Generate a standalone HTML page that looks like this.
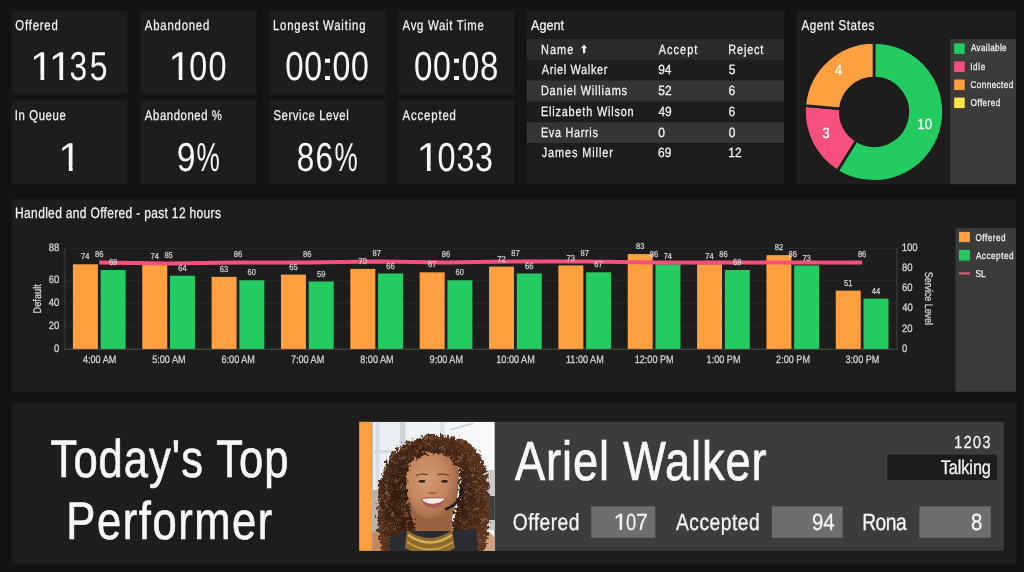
<!DOCTYPE html>
<html><head><meta charset="utf-8"><style>
html,body{margin:0;padding:0;background:#131313;overflow:hidden}
svg{display:block;will-change:transform}
text{font-family:"Liberation Sans",sans-serif;text-rendering:geometricPrecision}
</style></head><body>
<svg width="1024" height="572" viewBox="0 0 1024 572">
<defs><clipPath id="one0" clipPathUnits="userSpaceOnUse"><rect x="-20" y="-80" width="100" height="75.56"/><rect x="10.12" y="-80" width="3.67" height="84"/></clipPath><clipPath id="one1" clipPathUnits="userSpaceOnUse"><rect x="-20" y="-80" width="100" height="75.56"/><rect x="10.12" y="-80" width="3.67" height="84"/></clipPath><clipPath id="one2" clipPathUnits="userSpaceOnUse"><rect x="-20" y="-80" width="100" height="75.56"/><rect x="10.12" y="-80" width="3.67" height="84"/></clipPath><clipPath id="one3" clipPathUnits="userSpaceOnUse"><rect x="-20" y="-80" width="100" height="75.56"/><rect x="10.12" y="-80" width="3.67" height="84"/></clipPath><clipPath id="one4" clipPathUnits="userSpaceOnUse"><rect x="-20" y="-80" width="100" height="75.56"/><rect x="10.12" y="-80" width="3.67" height="84"/></clipPath><clipPath id="one5" clipPathUnits="userSpaceOnUse"><rect x="-20" y="-80" width="100" height="77.25"/><rect x="5.84" y="-80" width="2.17" height="84"/></clipPath></defs>
<rect width="1024" height="572" fill="#131313"/>
<rect x="11.50" y="10.60" width="116.00" height="83.60" fill="#1d1d1d" />
<text transform="translate(15.36 29.77) scale(0.8000 1)" font-size="14.18" fill="#f5f5f5" stroke="#f5f5f5" stroke-width="0.25" letter-spacing="0.99" >Offered</text>
<text transform="translate(30.04 80.20) scale(1.0302 1)" font-size="40.44" fill="#f7f7f7" stroke="#f7f7f7" stroke-width="0.0" clip-path="url(#one0)">1</text>
<text transform="translate(48.83 80.20) scale(1.0454 1)" font-size="40.44" fill="#f7f7f7" stroke="#f7f7f7" stroke-width="0.0" clip-path="url(#one1)">1</text>
<text transform="translate(69.51 80.20) scale(0.7862 1)" font-size="40.44" fill="#f7f7f7" stroke="#f7f7f7" stroke-width="0.0" >3</text>
<text transform="translate(89.82 80.20) scale(0.7914 1)" font-size="40.44" fill="#f7f7f7" stroke="#f7f7f7" stroke-width="0.0" >5</text>
<rect x="140.50" y="10.60" width="116.00" height="83.60" fill="#1d1d1d" />
<text transform="translate(144.87 29.77) scale(0.8000 1)" font-size="14.18" fill="#f5f5f5" stroke="#f5f5f5" stroke-width="0.25" letter-spacing="1.00" >Abandoned</text>
<text transform="translate(168.59 80.20) scale(1.0048 1)" font-size="40.44" fill="#f7f7f7" stroke="#f7f7f7" stroke-width="0.0" clip-path="url(#one2)">1</text>
<text transform="translate(189.31 80.20) scale(0.7976 1)" font-size="40.44" fill="#f7f7f7" stroke="#f7f7f7" stroke-width="0.0" >0</text>
<text transform="translate(208.40 80.20) scale(0.8028 1)" font-size="40.44" fill="#f7f7f7" stroke="#f7f7f7" stroke-width="0.0" >0</text>
<rect x="269.50" y="10.60" width="116.00" height="83.60" fill="#1d1d1d" />
<text transform="translate(272.96 29.77) scale(0.8000 1)" font-size="14.18" fill="#f5f5f5" stroke="#f5f5f5" stroke-width="0.25" letter-spacing="1.04" >Longest Waiting</text>
<text transform="translate(285.18 80.20) scale(0.8183 1)" font-size="40.44" fill="#f7f7f7" stroke="#f7f7f7" stroke-width="0.0" >0</text>
<text transform="translate(304.22 80.20) scale(0.7924 1)" font-size="40.44" fill="#f7f7f7" stroke="#f7f7f7" stroke-width="0.0" >0</text>
<text transform="translate(320.29 80.20) scale(1.2936 1)" font-size="40.44" fill="#f7f7f7" stroke="#f7f7f7" stroke-width="0.0" >:</text>
<text transform="translate(332.52 80.20) scale(0.7924 1)" font-size="40.44" fill="#f7f7f7" stroke="#f7f7f7" stroke-width="0.0" >0</text>
<text transform="translate(351.12 80.20) scale(0.7924 1)" font-size="40.44" fill="#f7f7f7" stroke="#f7f7f7" stroke-width="0.0" >0</text>
<rect x="398.20" y="10.60" width="116.00" height="83.60" fill="#1d1d1d" />
<text transform="translate(402.57 29.77) scale(0.8000 1)" font-size="14.18" fill="#f5f5f5" stroke="#f5f5f5" stroke-width="0.25" letter-spacing="0.92" >Avg Wait Time</text>
<text transform="translate(414.08 80.20) scale(0.8183 1)" font-size="40.44" fill="#f7f7f7" stroke="#f7f7f7" stroke-width="0.0" >0</text>
<text transform="translate(433.12 80.20) scale(0.7924 1)" font-size="40.44" fill="#f7f7f7" stroke="#f7f7f7" stroke-width="0.0" >0</text>
<text transform="translate(449.19 80.20) scale(1.2936 1)" font-size="40.44" fill="#f7f7f7" stroke="#f7f7f7" stroke-width="0.0" >:</text>
<text transform="translate(461.42 80.20) scale(0.7924 1)" font-size="40.44" fill="#f7f7f7" stroke="#f7f7f7" stroke-width="0.0" >0</text>
<text transform="translate(480.10 80.20) scale(0.8156 1)" font-size="40.44" fill="#f7f7f7" stroke="#f7f7f7" stroke-width="0.0" >8</text>
<rect x="11.50" y="100.20" width="116.00" height="84.00" fill="#1d1d1d" />
<text transform="translate(14.85 120.07) scale(0.8000 1)" font-size="14.18" fill="#f5f5f5" stroke="#f5f5f5" stroke-width="0.25" letter-spacing="0.75" >In Queue</text>
<text transform="translate(58.37 170.50) scale(1.0353 1)" font-size="40.44" fill="#f7f7f7" stroke="#f7f7f7" stroke-width="0.0" clip-path="url(#one3)">1</text>
<rect x="140.50" y="100.20" width="116.00" height="84.00" fill="#1d1d1d" />
<text transform="translate(144.87 120.07) scale(0.8000 1)" font-size="14.18" fill="#f5f5f5" stroke="#f5f5f5" stroke-width="0.25" letter-spacing="0.73" >Abandoned %</text>
<text transform="translate(176.80 170.50) scale(0.8341 1)" font-size="40.44" fill="#f7f7f7" stroke="#f7f7f7" stroke-width="0.0" >9</text>
<text transform="translate(196.48 170.50) scale(0.6484 1)" font-size="40.44" fill="#f7f7f7" stroke="#f7f7f7" stroke-width="0.0" >%</text>
<rect x="269.50" y="100.20" width="116.00" height="84.00" fill="#1d1d1d" />
<text transform="translate(273.39 120.07) scale(0.8000 1)" font-size="14.18" fill="#f5f5f5" stroke="#f5f5f5" stroke-width="0.25" letter-spacing="0.75" >Service Level</text>
<text transform="translate(296.76 170.50) scale(0.7787 1)" font-size="40.44" fill="#f7f7f7" stroke="#f7f7f7" stroke-width="0.0" >8</text>
<text transform="translate(315.52 170.50) scale(0.7807 1)" font-size="40.44" fill="#f7f7f7" stroke="#f7f7f7" stroke-width="0.0" >6</text>
<text transform="translate(334.59 170.50) scale(0.6454 1)" font-size="40.44" fill="#f7f7f7" stroke="#f7f7f7" stroke-width="0.0" >%</text>
<rect x="398.20" y="100.20" width="116.00" height="84.00" fill="#1d1d1d" />
<text transform="translate(402.57 120.07) scale(0.8000 1)" font-size="14.18" fill="#f5f5f5" stroke="#f5f5f5" stroke-width="0.25" letter-spacing="1.08" >Accepted</text>
<text transform="translate(416.79 170.50) scale(1.0048 1)" font-size="40.44" fill="#f7f7f7" stroke="#f7f7f7" stroke-width="0.0" clip-path="url(#one4)">1</text>
<text transform="translate(437.50 170.50) scale(0.8028 1)" font-size="40.44" fill="#f7f7f7" stroke="#f7f7f7" stroke-width="0.0" >0</text>
<text transform="translate(456.59 170.50) scale(0.7966 1)" font-size="40.44" fill="#f7f7f7" stroke="#f7f7f7" stroke-width="0.0" >3</text>
<text transform="translate(475.09 170.50) scale(0.7966 1)" font-size="40.44" fill="#f7f7f7" stroke="#f7f7f7" stroke-width="0.0" >3</text>
<rect x="526.70" y="10.60" width="257.80" height="173.60" fill="#1d1d1d" />
<text transform="translate(531.08 30.07) scale(0.8900 1)" font-size="14.18" fill="#f5f5f5" stroke="#f5f5f5" stroke-width="0.25" >Agent</text>
<rect x="526.70" y="39.00" width="257.30" height="20.60" fill="#2b2b2b" />
<rect x="526.70" y="80.40" width="257.30" height="21.10" fill="#353535" />
<rect x="526.70" y="122.30" width="257.30" height="20.70" fill="#353535" />
<text transform="translate(540.90 54.17) scale(0.8200 1)" font-size="13.31" fill="#f5f5f5" stroke="#f5f5f5" stroke-width="0.25" letter-spacing="1.36" >Name</text>
<path d="M584.1 44.6 L587.3 48.3 L585.25 48.3 L585.25 53.3 L582.95 53.3 L582.95 48.3 L580.9 48.3 Z" fill="#f0f0f0"/>
<text transform="translate(658.68 54.17) scale(0.8200 1)" font-size="13.31" fill="#f5f5f5" stroke="#f5f5f5" stroke-width="0.25" letter-spacing="1.30" >Accept</text>
<text transform="translate(728.30 54.17) scale(0.8200 1)" font-size="13.31" fill="#f5f5f5" stroke="#f5f5f5" stroke-width="0.25" letter-spacing="1.01" >Reject</text>
<text transform="translate(541.78 74.47) scale(0.8200 1)" font-size="13.31" fill="#f5f5f5" stroke="#f5f5f5" stroke-width="0.25" letter-spacing="0.80" >Ariel Walker</text>
<text transform="translate(658.14 74.47) scale(0.9000 1)" font-size="13.31" fill="#f5f5f5" stroke="#f5f5f5" stroke-width="0.25" >94</text>
<text transform="translate(728.73 74.47) scale(0.9000 1)" font-size="13.31" fill="#f5f5f5" stroke="#f5f5f5" stroke-width="0.25" >5</text>
<text transform="translate(540.90 95.22) scale(0.8200 1)" font-size="13.31" fill="#f5f5f5" stroke="#f5f5f5" stroke-width="0.25" letter-spacing="1.01" >Daniel Williams</text>
<text transform="translate(658.23 95.22) scale(0.9000 1)" font-size="13.31" fill="#f5f5f5" stroke="#f5f5f5" stroke-width="0.25" >52</text>
<text transform="translate(728.61 95.22) scale(0.9000 1)" font-size="13.31" fill="#f5f5f5" stroke="#f5f5f5" stroke-width="0.25" >6</text>
<text transform="translate(540.90 115.97) scale(0.8200 1)" font-size="13.31" fill="#f5f5f5" stroke="#f5f5f5" stroke-width="0.25" letter-spacing="0.99" >Elizabeth Wilson</text>
<text transform="translate(658.44 115.97) scale(0.9000 1)" font-size="13.31" fill="#f5f5f5" stroke="#f5f5f5" stroke-width="0.25" >49</text>
<text transform="translate(728.61 115.97) scale(0.9000 1)" font-size="13.31" fill="#f5f5f5" stroke="#f5f5f5" stroke-width="0.25" >6</text>
<text transform="translate(540.90 136.72) scale(0.8200 1)" font-size="13.31" fill="#f5f5f5" stroke="#f5f5f5" stroke-width="0.25" letter-spacing="0.82" >Eva Harris</text>
<text transform="translate(658.23 136.72) scale(0.9000 1)" font-size="13.31" fill="#f5f5f5" stroke="#f5f5f5" stroke-width="0.25" >0</text>
<text transform="translate(728.73 136.72) scale(0.9000 1)" font-size="13.31" fill="#f5f5f5" stroke="#f5f5f5" stroke-width="0.25" >0</text>
<text transform="translate(541.64 157.47) scale(0.8200 1)" font-size="13.31" fill="#f5f5f5" stroke="#f5f5f5" stroke-width="0.25" letter-spacing="1.11" >James Miller</text>
<text transform="translate(658.11 157.47) scale(0.9000 1)" font-size="13.31" fill="#f5f5f5" stroke="#f5f5f5" stroke-width="0.25" >69</text>
<text transform="translate(728.31 157.47) scale(0.9000 1)" font-size="13.31" fill="#f5f5f5" stroke="#f5f5f5" stroke-width="0.25" >12</text>
<rect x="797.00" y="10.60" width="219.00" height="173.60" fill="#1d1d1d" />
<text transform="translate(801.47 29.88) scale(0.8200 1)" font-size="14.18" fill="#f5f5f5" stroke="#f5f5f5" stroke-width="0.25" letter-spacing="0.69" >Agent States</text>
<path d="M874.00 42.40 A69.5 69.5 0 1 1 837.41 170.99 L856.21 140.64 A33.8 33.8 0 1 0 874.00 78.10 Z" fill="#23cb61" stroke="#1d1d1d" stroke-width="2.6" stroke-linejoin="miter"/>
<path d="M837.41 170.99 A69.5 69.5 0 0 1 804.80 105.49 L840.34 108.78 A33.8 33.8 0 0 0 856.21 140.64 Z" fill="#f8507c" stroke="#1d1d1d" stroke-width="2.6" stroke-linejoin="miter"/>
<path d="M804.80 105.49 A69.5 69.5 0 0 1 874.00 42.40 L874.00 78.10 A33.8 33.8 0 0 0 840.34 108.78 Z" fill="#ffa040" stroke="#1d1d1d" stroke-width="2.6" stroke-linejoin="miter"/>
<text transform="translate(917.28 128.68) scale(0.9000 1)" font-size="14.76" fill="#ffffff" stroke="#ffffff" stroke-width="0.25" >10</text>
<text transform="translate(822.25 137.78) scale(0.9000 1)" font-size="14.76" fill="#ffffff" stroke="#ffffff" stroke-width="0.25" >3</text>
<text transform="translate(834.65 75.47) scale(0.9000 1)" font-size="14.76" fill="#ffffff" stroke="#ffffff" stroke-width="0.25" >4</text>
<rect x="950.20" y="39.10" width="65.80" height="145.10" fill="#3b3b3b" />
<rect x="954.20" y="43.40" width="10.50" height="10.50" fill="#23cb61" />
<text transform="translate(970.88 51.48) scale(0.8200 1)" font-size="9.96" fill="#f5f5f5" stroke="#f5f5f5" stroke-width="0.25" letter-spacing="0.42" >Available</text>
<rect x="954.20" y="61.47" width="10.50" height="10.50" fill="#f8507c" />
<text transform="translate(970.15 69.58) scale(0.8200 1)" font-size="9.96" fill="#f5f5f5" stroke="#f5f5f5" stroke-width="0.25" letter-spacing="0.79" >Idle</text>
<rect x="954.20" y="79.54" width="10.50" height="10.50" fill="#ffa040" />
<text transform="translate(970.49 87.68) scale(0.8200 1)" font-size="9.96" fill="#f5f5f5" stroke="#f5f5f5" stroke-width="0.25" letter-spacing="0.50" >Connected</text>
<rect x="954.20" y="97.61" width="10.50" height="10.50" fill="#ffe545" />
<text transform="translate(970.51 105.78) scale(0.8200 1)" font-size="9.96" fill="#f5f5f5" stroke="#f5f5f5" stroke-width="0.25" letter-spacing="0.55" >Offered</text>
<rect x="11.70" y="199.10" width="1004.30" height="192.60" fill="#1d1d1d" />
<text transform="translate(15.11 218.47) scale(0.8000 1)" font-size="15.05" fill="#f5f5f5" stroke="#f5f5f5" stroke-width="0.25" letter-spacing="0.39" >Handled and Offered - past 12 hours</text>
<rect x="64.60" y="247.80" width="832.20" height="1.00" fill="#2a2a2a" />
<rect x="64.60" y="279.81" width="832.20" height="1.00" fill="#2a2a2a" />
<rect x="64.60" y="302.67" width="832.20" height="1.00" fill="#2a2a2a" />
<rect x="64.60" y="325.54" width="832.20" height="1.00" fill="#2a2a2a" />
<rect x="63.90" y="247.80" width="1.40" height="101.90" fill="#333333" />
<rect x="896.00" y="247.80" width="1.60" height="101.90" fill="#333333" />
<rect x="63.90" y="348.70" width="833.70" height="1.10" fill="#4a4a4a" />
<text transform="translate(48.81 251.12) scale(0.8800 1)" font-size="10.84" fill="#d8d8d8" stroke="#d8d8d8" stroke-width="0.25" >88</text>
<text transform="translate(48.76 283.13) scale(0.8800 1)" font-size="10.84" fill="#d8d8d8" stroke="#d8d8d8" stroke-width="0.25" >60</text>
<text transform="translate(48.76 306.00) scale(0.8800 1)" font-size="10.84" fill="#d8d8d8" stroke="#d8d8d8" stroke-width="0.25" >40</text>
<text transform="translate(48.76 328.86) scale(0.8800 1)" font-size="10.84" fill="#d8d8d8" stroke="#d8d8d8" stroke-width="0.25" >20</text>
<text transform="translate(54.06 351.72) scale(0.8800 1)" font-size="10.84" fill="#d8d8d8" stroke="#d8d8d8" stroke-width="0.25" >0</text>
<text transform="translate(901.69 251.12) scale(0.8800 1)" font-size="10.84" fill="#d8d8d8" stroke="#d8d8d8" stroke-width="0.25" >100</text>
<text transform="translate(902.00 271.25) scale(0.8800 1)" font-size="10.84" fill="#d8d8d8" stroke="#d8d8d8" stroke-width="0.25" >80</text>
<text transform="translate(901.93 291.36) scale(0.8800 1)" font-size="10.84" fill="#d8d8d8" stroke="#d8d8d8" stroke-width="0.25" >60</text>
<text transform="translate(902.20 311.48) scale(0.8800 1)" font-size="10.84" fill="#d8d8d8" stroke="#d8d8d8" stroke-width="0.25" >40</text>
<text transform="translate(901.93 331.60) scale(0.8800 1)" font-size="10.84" fill="#d8d8d8" stroke="#d8d8d8" stroke-width="0.25" >20</text>
<text transform="translate(902.03 351.72) scale(0.8800 1)" font-size="10.84" fill="#d8d8d8" stroke="#d8d8d8" stroke-width="0.25" >0</text>
<g transform="translate(41.3 298.5) rotate(-90)">
<text transform="translate(-15.00 -0.12) scale(0.8200 1)" font-size="11.13" fill="#d8d8d8" stroke="#d8d8d8" stroke-width="0.25" letter-spacing="0.08" >Default</text>
</g>
<g transform="translate(924.5 298.3) rotate(90)">
<text transform="translate(-26.56 -0.12) scale(0.8200 1)" font-size="11.13" fill="#d8d8d8" stroke="#d8d8d8" stroke-width="0.25" letter-spacing="-0.15" >Service Level</text>
</g>
<rect x="72.92" y="264.30" width="24.97" height="84.60" fill="#ffa040" />
<rect x="100.66" y="270.02" width="24.97" height="78.88" fill="#23cb61" />
<text transform="translate(82.96 362.77) scale(0.8400 1)" font-size="10.84" fill="#d8d8d8" stroke="#d8d8d8" stroke-width="0.25" >4:00 AM</text>
<rect x="142.27" y="264.30" width="24.97" height="84.60" fill="#ffa040" />
<rect x="170.01" y="275.74" width="24.97" height="73.16" fill="#23cb61" />
<text transform="translate(152.23 362.77) scale(0.8400 1)" font-size="10.84" fill="#d8d8d8" stroke="#d8d8d8" stroke-width="0.25" >5:00 AM</text>
<rect x="211.62" y="276.88" width="24.97" height="72.02" fill="#ffa040" />
<rect x="239.36" y="280.31" width="24.97" height="68.59" fill="#23cb61" />
<text transform="translate(221.53 362.77) scale(0.8400 1)" font-size="10.84" fill="#d8d8d8" stroke="#d8d8d8" stroke-width="0.25" >6:00 AM</text>
<rect x="280.97" y="274.59" width="24.97" height="74.31" fill="#ffa040" />
<rect x="308.71" y="281.45" width="24.97" height="67.45" fill="#23cb61" />
<text transform="translate(290.88 362.77) scale(0.8400 1)" font-size="10.84" fill="#d8d8d8" stroke="#d8d8d8" stroke-width="0.25" >7:00 AM</text>
<rect x="350.32" y="268.88" width="24.97" height="80.02" fill="#ffa040" />
<rect x="378.06" y="273.45" width="24.97" height="75.45" fill="#23cb61" />
<text transform="translate(360.27 362.77) scale(0.8400 1)" font-size="10.84" fill="#d8d8d8" stroke="#d8d8d8" stroke-width="0.25" >8:00 AM</text>
<rect x="419.67" y="272.31" width="24.97" height="76.59" fill="#ffa040" />
<rect x="447.41" y="280.31" width="24.97" height="68.59" fill="#23cb61" />
<text transform="translate(429.59 362.77) scale(0.8400 1)" font-size="10.84" fill="#d8d8d8" stroke="#d8d8d8" stroke-width="0.25" >9:00 AM</text>
<rect x="489.02" y="266.59" width="24.97" height="82.31" fill="#ffa040" />
<rect x="516.76" y="273.45" width="24.97" height="75.45" fill="#23cb61" />
<text transform="translate(496.28 362.77) scale(0.8400 1)" font-size="10.84" fill="#d8d8d8" stroke="#d8d8d8" stroke-width="0.25" >10:00 AM</text>
<rect x="558.37" y="265.45" width="24.97" height="83.45" fill="#ffa040" />
<rect x="586.11" y="272.31" width="24.97" height="76.59" fill="#23cb61" />
<text transform="translate(565.97 362.77) scale(0.8400 1)" font-size="10.84" fill="#d8d8d8" stroke="#d8d8d8" stroke-width="0.25" >11:00 AM</text>
<rect x="627.72" y="254.02" width="24.97" height="94.88" fill="#ffa040" />
<rect x="655.46" y="264.30" width="24.97" height="84.60" fill="#23cb61" />
<text transform="translate(634.73 362.77) scale(0.8400 1)" font-size="10.84" fill="#d8d8d8" stroke="#d8d8d8" stroke-width="0.25" >12:00 PM</text>
<rect x="697.07" y="264.30" width="24.97" height="84.60" fill="#ffa040" />
<rect x="724.81" y="270.02" width="24.97" height="78.88" fill="#23cb61" />
<text transform="translate(706.62 362.77) scale(0.8400 1)" font-size="10.84" fill="#d8d8d8" stroke="#d8d8d8" stroke-width="0.25" >1:00 PM</text>
<rect x="766.42" y="255.16" width="24.97" height="93.74" fill="#ffa040" />
<rect x="794.16" y="265.45" width="24.97" height="83.45" fill="#23cb61" />
<text transform="translate(776.08 362.77) scale(0.8400 1)" font-size="10.84" fill="#d8d8d8" stroke="#d8d8d8" stroke-width="0.25" >2:00 PM</text>
<rect x="835.77" y="290.60" width="24.97" height="58.30" fill="#ffa040" />
<rect x="863.51" y="298.60" width="24.97" height="50.30" fill="#23cb61" />
<text transform="translate(845.49 362.77) scale(0.8400 1)" font-size="10.84" fill="#d8d8d8" stroke="#d8d8d8" stroke-width="0.25" >3:00 PM</text>
<polyline points="99.27,262.38 168.62,263.39 237.97,262.38 307.32,262.38 376.67,261.38 446.02,262.38 515.38,261.38 584.73,261.38 654.07,262.38 723.42,262.38 792.77,262.38 862.12,262.38" fill="none" stroke="#f8507c" stroke-width="4"/>
<text transform="translate(81.09 259.38) scale(0.8800 1)" font-size="8.65" fill="#d0d0d0" stroke="#d0d0d0" stroke-width="0.25" >74</text>
<text transform="translate(108.90 265.10) scale(0.8800 1)" font-size="8.65" fill="#d0d0d0" stroke="#d0d0d0" stroke-width="0.25" >69</text>
<text transform="translate(150.44 259.38) scale(0.8800 1)" font-size="8.65" fill="#d0d0d0" stroke="#d0d0d0" stroke-width="0.25" >74</text>
<text transform="translate(178.18 270.81) scale(0.8800 1)" font-size="8.65" fill="#d0d0d0" stroke="#d0d0d0" stroke-width="0.25" >64</text>
<text transform="translate(219.85 271.95) scale(0.8800 1)" font-size="8.65" fill="#d0d0d0" stroke="#d0d0d0" stroke-width="0.25" >63</text>
<text transform="translate(247.57 275.38) scale(0.8800 1)" font-size="8.65" fill="#d0d0d0" stroke="#d0d0d0" stroke-width="0.25" >60</text>
<text transform="translate(289.19 269.67) scale(0.8800 1)" font-size="8.65" fill="#d0d0d0" stroke="#d0d0d0" stroke-width="0.25" >65</text>
<text transform="translate(316.99 276.53) scale(0.8800 1)" font-size="8.65" fill="#d0d0d0" stroke="#d0d0d0" stroke-width="0.25" >59</text>
<text transform="translate(358.53 263.95) scale(0.8800 1)" font-size="8.65" fill="#d0d0d0" stroke="#d0d0d0" stroke-width="0.25" >70</text>
<text transform="translate(386.29 268.52) scale(0.8800 1)" font-size="8.65" fill="#d0d0d0" stroke="#d0d0d0" stroke-width="0.25" >66</text>
<text transform="translate(427.93 267.38) scale(0.8800 1)" font-size="8.65" fill="#d0d0d0" stroke="#d0d0d0" stroke-width="0.25" >67</text>
<text transform="translate(455.62 275.38) scale(0.8800 1)" font-size="8.65" fill="#d0d0d0" stroke="#d0d0d0" stroke-width="0.25" >60</text>
<text transform="translate(497.28 261.67) scale(0.8800 1)" font-size="8.65" fill="#d0d0d0" stroke="#d0d0d0" stroke-width="0.25" >72</text>
<text transform="translate(524.99 268.52) scale(0.8800 1)" font-size="8.65" fill="#d0d0d0" stroke="#d0d0d0" stroke-width="0.25" >66</text>
<text transform="translate(566.60 260.52) scale(0.8800 1)" font-size="8.65" fill="#d0d0d0" stroke="#d0d0d0" stroke-width="0.25" >73</text>
<text transform="translate(594.37 267.38) scale(0.8800 1)" font-size="8.65" fill="#d0d0d0" stroke="#d0d0d0" stroke-width="0.25" >67</text>
<text transform="translate(635.98 249.09) scale(0.8800 1)" font-size="8.65" fill="#d0d0d0" stroke="#d0d0d0" stroke-width="0.25" >83</text>
<text transform="translate(663.63 259.38) scale(0.8800 1)" font-size="8.65" fill="#d0d0d0" stroke="#d0d0d0" stroke-width="0.25" >74</text>
<text transform="translate(705.24 259.38) scale(0.8800 1)" font-size="8.65" fill="#d0d0d0" stroke="#d0d0d0" stroke-width="0.25" >74</text>
<text transform="translate(733.05 265.10) scale(0.8800 1)" font-size="8.65" fill="#d0d0d0" stroke="#d0d0d0" stroke-width="0.25" >69</text>
<text transform="translate(774.71 250.23) scale(0.8800 1)" font-size="8.65" fill="#d0d0d0" stroke="#d0d0d0" stroke-width="0.25" >82</text>
<text transform="translate(802.39 260.52) scale(0.8800 1)" font-size="8.65" fill="#d0d0d0" stroke="#d0d0d0" stroke-width="0.25" >73</text>
<text transform="translate(844.06 285.67) scale(0.8800 1)" font-size="8.65" fill="#d0d0d0" stroke="#d0d0d0" stroke-width="0.25" >51</text>
<text transform="translate(871.79 293.68) scale(0.8800 1)" font-size="8.65" fill="#d0d0d0" stroke="#d0d0d0" stroke-width="0.25" >44</text>
<text transform="translate(95.05 257.26) scale(0.8800 1)" font-size="8.65" fill="#d0d0d0" stroke="#d0d0d0" stroke-width="0.25" >86</text>
<text transform="translate(164.39 258.26) scale(0.8800 1)" font-size="8.65" fill="#d0d0d0" stroke="#d0d0d0" stroke-width="0.25" >85</text>
<text transform="translate(233.75 257.26) scale(0.8800 1)" font-size="8.65" fill="#d0d0d0" stroke="#d0d0d0" stroke-width="0.25" >86</text>
<text transform="translate(303.10 257.26) scale(0.8800 1)" font-size="8.65" fill="#d0d0d0" stroke="#d0d0d0" stroke-width="0.25" >86</text>
<text transform="translate(372.48 256.25) scale(0.8800 1)" font-size="8.65" fill="#d0d0d0" stroke="#d0d0d0" stroke-width="0.25" >87</text>
<text transform="translate(441.80 257.26) scale(0.8800 1)" font-size="8.65" fill="#d0d0d0" stroke="#d0d0d0" stroke-width="0.25" >86</text>
<text transform="translate(511.18 256.25) scale(0.8800 1)" font-size="8.65" fill="#d0d0d0" stroke="#d0d0d0" stroke-width="0.25" >87</text>
<text transform="translate(580.53 256.25) scale(0.8800 1)" font-size="8.65" fill="#d0d0d0" stroke="#d0d0d0" stroke-width="0.25" >87</text>
<text transform="translate(649.85 257.26) scale(0.8800 1)" font-size="8.65" fill="#d0d0d0" stroke="#d0d0d0" stroke-width="0.25" >86</text>
<text transform="translate(719.20 257.26) scale(0.8800 1)" font-size="8.65" fill="#d0d0d0" stroke="#d0d0d0" stroke-width="0.25" >86</text>
<text transform="translate(788.55 257.26) scale(0.8800 1)" font-size="8.65" fill="#d0d0d0" stroke="#d0d0d0" stroke-width="0.25" >86</text>
<text transform="translate(857.90 257.26) scale(0.8800 1)" font-size="8.65" fill="#d0d0d0" stroke="#d0d0d0" stroke-width="0.25" >86</text>
<rect x="955.50" y="228.10" width="60.50" height="163.60" fill="#3b3b3b" />
<rect x="959.00" y="231.90" width="10.90" height="10.20" fill="#ffa040" />
<rect x="959.00" y="249.90" width="10.90" height="10.70" fill="#23cb61" />
<rect x="959.00" y="272.40" width="10.90" height="2.00" fill="#f8507c" />
<text transform="translate(975.51 240.57) scale(0.8200 1)" font-size="9.96" fill="#f5f5f5" stroke="#f5f5f5" stroke-width="0.25" letter-spacing="0.59" >Offered</text>
<text transform="translate(975.88 258.62) scale(0.8200 1)" font-size="9.96" fill="#f5f5f5" stroke="#f5f5f5" stroke-width="0.25" letter-spacing="0.64" >Accepted</text>
<text transform="translate(975.53 276.77) scale(0.8200 1)" font-size="9.96" fill="#f5f5f5" stroke="#f5f5f5" stroke-width="0.25" letter-spacing="0.05" >SL</text>
<rect x="11.70" y="402.70" width="1004.70" height="160.80" fill="#1d1d1d" />
<text transform="translate(50.61 476.55) scale(0.8200 1)" font-size="53.09" fill="#f7f7f7" stroke="#f7f7f7" stroke-width="0.7" letter-spacing="1.24" >Today's Top</text>
<text transform="translate(66.30 538.65) scale(0.8200 1)" font-size="53.09" fill="#f7f7f7" stroke="#f7f7f7" stroke-width="0.7" letter-spacing="1.91" >Performer</text>
<rect x="359.20" y="421.80" width="644.60" height="129.00" fill="#3c3c3c" />
<rect x="359.20" y="421.80" width="13.00" height="129.00" fill="#ffa040" />
<defs>
<clipPath id="pc"><rect x="372.2" y="421.8" width="122.6" height="129.2"/></clipPath>
<radialGradient id="face" cx="0.42" cy="0.4" r="0.7">
<stop offset="0" stop-color="#d49a74"/><stop offset="0.55" stop-color="#c2855e"/><stop offset="1" stop-color="#94603f"/>
</radialGradient>
<radialGradient id="hairg" cx="0.45" cy="0.5" r="0.6">
<stop offset="0" stop-color="#2a150b"/><stop offset="0.6" stop-color="#3b2012"/><stop offset="1" stop-color="#5e3720"/>
</radialGradient>
<linearGradient id="bgg" x1="0" y1="0" x2="1" y2="0">
<stop offset="0" stop-color="#e9edf1"/><stop offset="0.5" stop-color="#f1f4f6"/><stop offset="1" stop-color="#f8f9fa"/>
</linearGradient>
<filter id="curl" x="0" y="0" width="1" height="1">
<feTurbulence type="fractalNoise" baseFrequency="0.32" numOctaves="2" seed="11" result="n"/>
<feColorMatrix in="n" type="matrix" values="0 0 0 0 0.58  0 0 0 0 0.33  0 0 0 0 0.18  1.7 0 0 0 -0.88" result="c"/>
<feComposite in="c" in2="SourceGraphic" operator="in"/>
</filter>
<filter id="frizz" x="-0.1" y="-0.1" width="1.2" height="1.2">
<feTurbulence type="turbulence" baseFrequency="0.18" numOctaves="2" seed="5" result="t"/>
<feDisplacementMap in="SourceGraphic" in2="t" scale="9" xChannelSelector="R" yChannelSelector="G"/>
</filter>
</defs>
<g clip-path="url(#pc)">
<rect x="372.2" y="421.8" width="122.6" height="129.2" fill="url(#bgg)"/>
<rect x="375.6" y="421.8" width="3.7" height="70" fill="#d6dce2"/>
<rect x="399.8" y="421.8" width="5.5" height="60" fill="#cdd4db"/>
<rect x="439.8" y="421.8" width="4.8" height="12" fill="#dfe4e9"/>
<path d="M450 429 L473 422.5 L474 424 L451 430.5 Z" fill="#c9cfd5"/>
<rect x="372.2" y="450" width="28" height="3" fill="#d4dae0"/>
<rect x="372.2" y="490" width="8" height="45" fill="#b8b2aa"/>
<rect x="482" y="470" width="13" height="60" fill="#c9c9c9"/>
<rect x="485" y="496" width="10" height="24" fill="#3b3d43"/>
<!-- shoulders -->
<path d="M372 533 Q383 529 395 533 L395 552 L372 552 Z" fill="#c08a64"/>
<path d="M472 527 Q488 528 495 538 L495 552 L470 552 Z" fill="#d1a17f"/>
<!-- skin under hair hole -->
<path d="M403 470 C405 456 418 449 432 449 C446 449 457 457 459 472 C459 490 457 505 452 518 L453 552 L408 552 L410 520 C405 508 402 490 403 470 Z" fill="#a06846"/>
<path d="M405.5 478 C405.5 462 417 452.5 431.5 452.5 C446 452.5 456.8 462 456.8 478 C456.8 495 452 508 444 515 C440 518.5 436 519.5 432 519.5 C428 519.5 424 518.5 420 515 C411 508 405.5 495 405.5 478 Z" fill="url(#face)"/>
<!-- neck shading -->
<path d="M414 512 Q432 526 449 512 L450 535 Q432 540 413 535 Z" fill="#915c3c" opacity="0.5"/>
<!-- hair with face hole -->
<g filter="url(#frizz)">
<path fill-rule="evenodd" fill="url(#hairg)" d="M380 556 C377 540 374 522 375.5 505 C376.5 490 377 480 379.5 471 C383 460 390 451 398 445 C406 438 418 433.5 430 433 C445 432.5 458 434.5 466 440 C474 446 480 456 483 466 C486.5 479 487.5 496 487.5 512 C487.5 526 484.5 539 480 556 Z
M405 470 C407 457 418 451 432 451 C446 451 455 458 457 471 C458 490 456 505 450 518 L451 556 L410 556 L412 520 C406 508 404 490 405 470 Z"/>
<path fill-rule="evenodd" fill="#000" filter="url(#curl)" d="M380 556 C377 540 374 522 375.5 505 C376.5 490 377 480 379.5 471 C383 460 390 451 398 445 C406 438 418 433.5 430 433 C445 432.5 458 434.5 466 440 C474 446 480 456 483 466 C486.5 479 487.5 496 487.5 512 C487.5 526 484.5 539 480 556 Z
M405 470 C407 457 418 451 432 451 C446 451 455 458 457 471 C458 490 456 505 450 518 L451 556 L410 556 L412 520 C406 508 404 490 405 470 Z"/>
</g>
<!-- dark top -->
<path d="M390 538 Q399 532 409 531 L451 531 Q463 531 476 528 L478 552 L390 552 Z" fill="#2b2c32"/>
<!-- necklace -->
<path d="M407 530 Q430 546 452 530 L455 548 Q430 562 405 548 Z" fill="#8f6a2e"/>
<path d="M408 535 Q430 550 452 535" stroke="#d8b05a" stroke-width="2.4" fill="none"/>
<path d="M407 542 Q430 557 453 542" stroke="#c99c48" stroke-width="2" fill="none"/>
<!-- eyebrows / eyes -->
<path d="M416 475.5 Q421.5 473 427.5 474.8" stroke="#4a2e1e" stroke-width="1.1" fill="none"/>
<path d="M437.5 474.8 Q443.5 473 449 475.5" stroke="#4a2e1e" stroke-width="1.1" fill="none"/>
<ellipse cx="422" cy="481.3" rx="3.4" ry="1.4" fill="#2f1f18"/>
<ellipse cx="444.5" cy="481.3" rx="3.4" ry="1.4" fill="#2f1f18"/>
<path d="M429 492 Q432.5 495 436 492" stroke="#905c3c" stroke-width="1.3" fill="none"/>
<!-- mouth -->
<path d="M420.5 498.5 Q433 496.5 446.5 498 Q441 508.5 432.5 508 Q424 507.5 420.5 498.5 Z" fill="#b05a52"/>
<path d="M422 499 Q433 497.8 445 498.6 Q440.5 503.8 432.5 503.8 Q425 503.8 422 499 Z" fill="#f3eee8"/>
<!-- mic -->
<path d="M461 486 L460.5 496 Q457 505 446 509" stroke="#1c1c20" stroke-width="2.4" fill="none" stroke-linecap="round"/>
</g>

<text transform="translate(515.07 479.55) scale(0.8200 1)" font-size="55.13" fill="#f7f7f7" stroke="#f7f7f7" stroke-width="0.7" letter-spacing="1.05" >Ariel Walker</text>
<text transform="translate(954.35 447.85) scale(0.8200 1)" font-size="17.45" fill="#f5f5f5" stroke="#f5f5f5" stroke-width="0.3" letter-spacing="1.72" >1203</text>
<rect x="887.40" y="454.60" width="109.60" height="25.40" fill="#1d1d1d" />
<text transform="translate(940.76 474.05) scale(0.8200 1)" font-size="19.78" fill="#f5f5f5" stroke="#f5f5f5" stroke-width="0.3" letter-spacing="-0.07" >Talking</text>
<text transform="translate(512.81 529.55) scale(0.8200 1)" font-size="23.42" fill="#f5f5f5" stroke="#f5f5f5" stroke-width="0.3" letter-spacing="0.61" >Offered</text>
<rect x="591.30" y="506.30" width="64.00" height="31.50" fill="#6e6e6e" />
<text transform="translate(613.40 529.70) scale(1.0667 1)" font-size="23.42" fill="#f4f4f4" stroke="#f4f4f4" stroke-width="0.2" clip-path="url(#one5)">1</text>
<text transform="translate(625.95 529.70) scale(0.7819 1)" font-size="23.42" fill="#f4f4f4" stroke="#f4f4f4" stroke-width="0.2" >0</text>
<text transform="translate(636.01 529.70) scale(0.9212 1)" font-size="23.42" fill="#f4f4f4" stroke="#f4f4f4" stroke-width="0.2" >7</text>
<text transform="translate(676.07 529.55) scale(0.8200 1)" font-size="23.42" fill="#f5f5f5" stroke="#f5f5f5" stroke-width="0.3" letter-spacing="0.61" >Accepted</text>
<rect x="771.80" y="506.30" width="70.80" height="31.50" fill="#6e6e6e" />
<text transform="translate(812.01 529.55) scale(0.8700 1)" font-size="23.42" fill="#f4f4f4" stroke="#f4f4f4" stroke-width="0.3" >94</text>
<text transform="translate(862.14 529.55) scale(0.8200 1)" font-size="23.42" fill="#f5f5f5" stroke="#f5f5f5" stroke-width="0.3" letter-spacing="-0.57" >Rona</text>
<rect x="919.40" y="506.30" width="71.30" height="31.50" fill="#6e6e6e" />
<text transform="translate(970.93 529.55) scale(0.8700 1)" font-size="23.42" fill="#f4f4f4" stroke="#f4f4f4" stroke-width="0.3" >8</text>
</svg>
</body></html>
